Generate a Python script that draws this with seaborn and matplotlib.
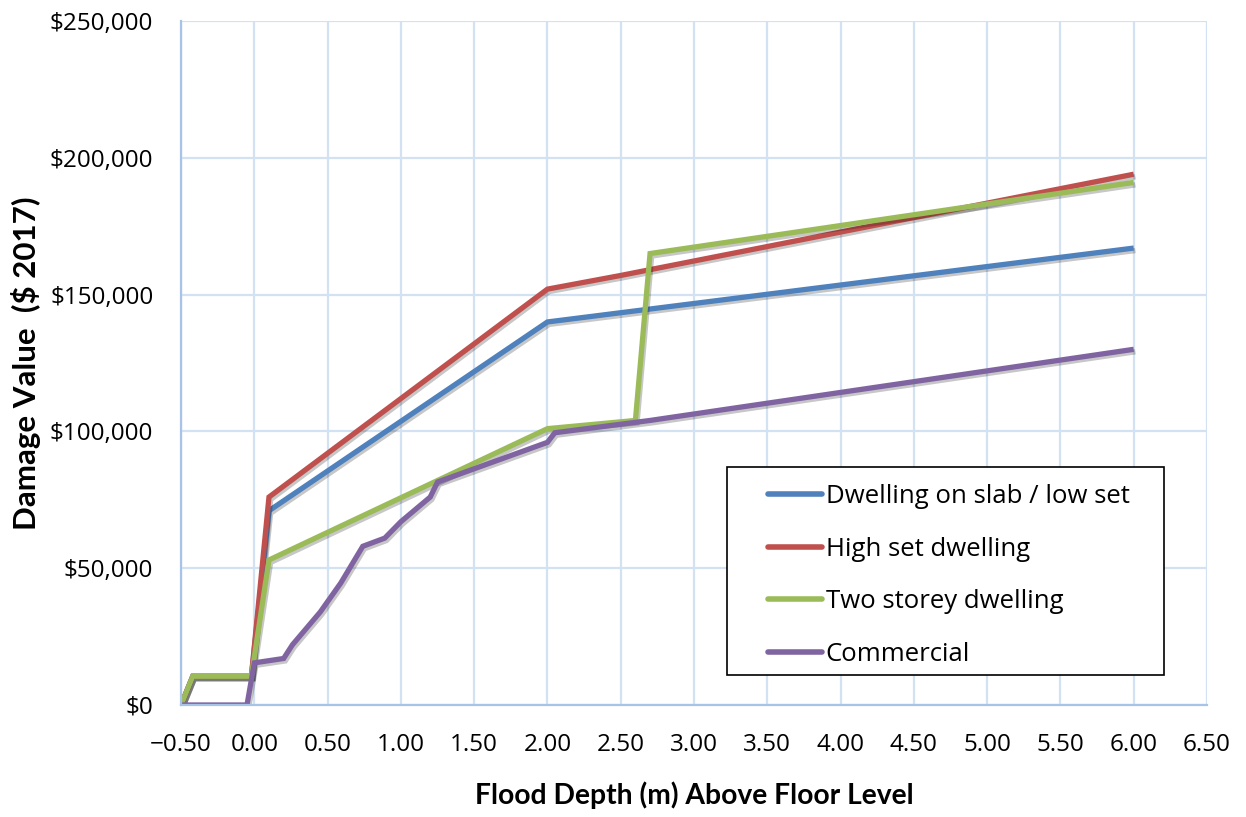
import numpy as np
import pandas as pd
import matplotlib
matplotlib.use("Agg")
import matplotlib.pyplot as plt
import matplotlib.patheffects as pe
from matplotlib.patches import Rectangle
from matplotlib.ticker import FuncFormatter, MultipleLocator
import seaborn as sns

# ---- data ----
slab_x = [-0.50, -0.42, -0.02, 0.10, 2.00, 6.00]
slab_y = [0, 10500, 10500, 71000, 140000, 167000]

high_x = [-0.50, -0.42, -0.02, 0.10, 2.00, 2.50, 6.00]
high_y = [0, 10500, 10500, 76000, 152000, 157000, 194000]

two_x = [-0.50, -0.42, -0.02, 0.10, 2.00, 2.60, 2.70, 6.00]
two_y = [0, 10500, 10500, 53000, 101000, 104000, 165000, 191000]

com_x = [-0.50, -0.05, 0.00, 0.20, 0.26, 0.45, 0.59, 0.74, 0.89, 1.00, 1.20, 1.25, 2.00, 2.05, 2.70, 6.00]
com_y = [0, 0, 15400, 17000, 22000, 34000, 44600, 58000, 61000, 67000, 76000, 81500, 96000, 99500, 104000, 130000]

series_names = ["Dwelling on slab / low set", "High set dwelling",
                "Two storey dwelling", "Commercial"]
colors = ["#4F81BD", "#C0504D", "#9BBB59", "#8064A2"]

frames = []
for name, xs, ys in zip(series_names, [slab_x, high_x, two_x, com_x],
                        [slab_y, high_y, two_y, com_y]):
    frames.append(pd.DataFrame({"depth": xs, "damage": ys, "type": name}))
df = pd.concat(frames, ignore_index=True)

sns.set_theme(style="white")
plt.rcParams['font.family'] = ['Open Sans', 'DejaVu Sans']
plt.rcParams['text.color'] = 'black'
plt.rcParams['axes.labelcolor'] = 'black'

fig = plt.figure(figsize=(12.46, 8.17), dpi=100)
ax = fig.add_axes([0.1453, 0.1371, 0.8234, 0.8372])

sns.lineplot(data=df, x="depth", y="damage", hue="type", hue_order=series_names,
             palette=colors, sort=False, estimator=None, linewidth=3.8, ax=ax,
             legend=True)

for line in ax.lines:
    line.set_solid_capstyle("butt")
    line.set_solid_joinstyle("miter")
    line.set_path_effects([pe.SimpleLineShadow(offset=(1.2, -1.8), shadow_color="black", alpha=0.22),
                           pe.Normal()])

ax.set_xlim(-0.5, 6.5)
ax.set_ylim(0, 250000)
ax.xaxis.set_major_locator(MultipleLocator(0.5))
ax.yaxis.set_major_locator(MultipleLocator(50000))
ax.xaxis.set_major_formatter(FuncFormatter(lambda v, p: (f"{v:.2f}".replace("-", "\u2212"))))
ax.yaxis.set_major_formatter(FuncFormatter(lambda v, p: f"${v:,.0f}"))
ax.tick_params(axis="both", labelsize=17.5, colors="black", length=0)
ax.tick_params(axis="x", pad=20)
ax.tick_params(axis="y", pad=20)

grid_c = "#D3E2F2"
ax.grid(True, color=grid_c, linewidth=1.6)
ax.set_axisbelow(True)
for s in ["top", "right"]:
    ax.spines[s].set_visible(False)
ax.spines["left"].set_color("#A7C4E8")
ax.spines["left"].set_linewidth(1.6)
ax.spines["bottom"].set_color("#A7C4E8")
ax.spines["bottom"].set_linewidth(1.6)

ax.set_xlabel("Flood Depth (m) Above Floor Level", fontsize=20.3, fontweight="bold",
              labelpad=18, family=["Lato", "DejaVu Sans"])
ax.set_ylabel("Damage Value  ($ 2017)", fontsize=22.5, fontweight="bold",
              labelpad=6, family=["Lato", "DejaVu Sans"])

# legend frame drawn as a box, entries placed inside
ax.add_patch(Rectangle((0.532, 0.044), 0.426, 0.304, transform=ax.transAxes,
                       facecolor="white", edgecolor="black", linewidth=1.2, zorder=5))
leg = ax.legend(loc="upper left", bbox_to_anchor=(0.572, 0.323),
                fontsize=18.5, frameon=False, handlelength=2.1,
                handletextpad=0.15, labelspacing=1.07, borderpad=0,
                borderaxespad=0)
leg.set_zorder(6)
for h in leg.get_lines():
    h.set_linewidth(4)
    h.set_solid_capstyle("round")
    h.set_path_effects([])

fig.savefig("out.png", dpi=100)
